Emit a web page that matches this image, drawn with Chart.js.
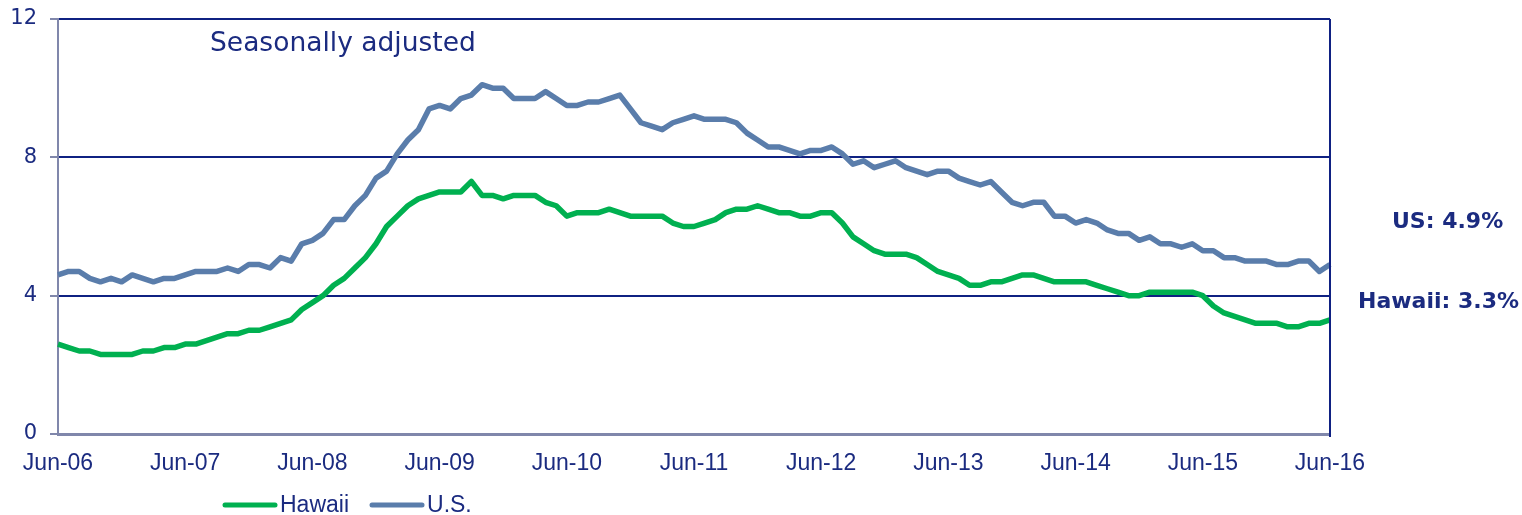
<!DOCTYPE html>
<html>
<head>
<meta charset="utf-8">
<script src="https://cdn.jsdelivr.net/npm/chart.js@4.4.1/dist/chart.umd.min.js"></script>
<style>
    html, body { margin: 0; padding: 0; background: #ffffff; }
    #wrap { position: relative; width: 1522px; height: 515px; }
</style>
</head>
<body>
<div id="wrap"><canvas id="unemployment-chart"></canvas></div>
<script>
// ---------------------------- Data ------------------------------------------ //

// tick labels shown on the x axis, one per June
const tick_labels = [ "Jun-06", "Jun-07", "Jun-08", "Jun-09", "Jun-10", "Jun-11",
    "Jun-12", "Jun-13", "Jun-14", "Jun-15", "Jun-16" ];

const month_names = [ "Jun", "Jul", "Aug", "Sep", "Oct", "Nov", "Dec",
    "Jan", "Feb", "Mar", "Apr", "May" ];

// Hawaii unemployment rate, %, monthly Jun-06 .. Jun-16
const hawaii_rate = [
    2.6, 2.5, 2.4, 2.4, 2.3, 2.3, 2.3, 2.3, 2.4, 2.4, 2.5, 2.5,
    2.6, 2.6, 2.7, 2.8, 2.9, 2.9, 3.0, 3.0, 3.1, 3.2, 3.3, 3.6,
    3.8, 4.0, 4.3, 4.5, 4.8, 5.1, 5.5, 6.0, 6.3, 6.6, 6.8, 6.9,
    7.0, 7.0, 7.0, 7.3, 6.9, 6.9, 6.8, 6.9, 6.9, 6.9, 6.7, 6.6,
    6.3, 6.4, 6.4, 6.4, 6.5, 6.4, 6.3, 6.3, 6.3, 6.3, 6.1, 6.0,
    6.0, 6.1, 6.2, 6.4, 6.5, 6.5, 6.6, 6.5, 6.4, 6.4, 6.3, 6.3,
    6.4, 6.4, 6.1, 5.7, 5.5, 5.3, 5.2, 5.2, 5.2, 5.1, 4.9, 4.7,
    4.6, 4.5, 4.3, 4.3, 4.4, 4.4, 4.5, 4.6, 4.6, 4.5, 4.4, 4.4,
    4.4, 4.4, 4.3, 4.2, 4.1, 4.0, 4.0, 4.1, 4.1, 4.1, 4.1, 4.1,
    4.0, 3.7, 3.5, 3.4, 3.3, 3.2, 3.2, 3.2, 3.1, 3.1, 3.2, 3.2,
    3.3
];

// U.S. unemployment rate, %, same months
const us_rate = [
    4.6, 4.7, 4.7, 4.5, 4.4, 4.5, 4.4, 4.6, 4.5, 4.4, 4.5, 4.5,
    4.6, 4.7, 4.7, 4.7, 4.8, 4.7, 4.9, 4.9, 4.8, 5.1, 5.0, 5.5,
    5.6, 5.8, 6.2, 6.2, 6.6, 6.9, 7.4, 7.6, 8.1, 8.5, 8.8, 9.4,
    9.5, 9.4, 9.7, 9.8, 10.1, 10.0, 10.0, 9.7, 9.7, 9.7, 9.9, 9.7,
    9.5, 9.5, 9.6, 9.6, 9.7, 9.8, 9.4, 9.0, 8.9, 8.8, 9.0, 9.1,
    9.2, 9.1, 9.1, 9.1, 9.0, 8.7, 8.5, 8.3, 8.3, 8.2, 8.1, 8.2,
    8.2, 8.3, 8.1, 7.8, 7.9, 7.7, 7.8, 7.9, 7.7, 7.6, 7.5, 7.6,
    7.6, 7.4, 7.3, 7.2, 7.3, 7.0, 6.7, 6.6, 6.7, 6.7, 6.3, 6.3,
    6.1, 6.2, 6.1, 5.9, 5.8, 5.8, 5.6, 5.7, 5.5, 5.5, 5.4, 5.5,
    5.3, 5.3, 5.1, 5.1, 5.0, 5.0, 5.0, 4.9, 4.9, 5.0, 5.0, 4.7,
    4.9
];

// one category per month
let month_labels = [];
for ( let i = 0; i < hawaii_rate.length; i++ )
{
    let yr = 6 + Math.floor( ( i + 5 ) / 12 );
    month_labels.push( month_names[ i % 12 ] + "-" + String( yr ).padStart( 2, "0" ) );
}

// ---------------------------- Styles ------------------------------------------ //
const NAVY = '#0f2182';
const TEXT_NAVY = '#1b2b80';
const AXIS_GREY = '#8087ab';
const GREEN = '#00b050';
const BLUE = '#5a7dab';

// extra drawing: right border, note, end values, legend
const extras_plugin = {
    id: 'extras',
    afterDraw( chart )
    {
        const ctx = chart.ctx;
        const area = chart.chartArea;
        ctx.save();

        ctx.strokeStyle = NAVY;
        ctx.lineWidth = 2;
        ctx.beginPath();
        ctx.moveTo( area.right, area.top );
        ctx.lineTo( area.right, area.bottom + 3 );
        ctx.stroke();

        ctx.fillStyle = TEXT_NAVY;
        ctx.textBaseline = 'alphabetic';
        ctx.textAlign = 'left';
        ctx.font = '26.5px "DejaVu Sans"';
        ctx.fillText( 'Seasonally adjusted', 210, 51 );

        ctx.font = 'bold 22px "DejaVu Sans"';
        ctx.fillText( 'US: ' + us_rate[ us_rate.length - 1 ].toFixed( 1 ) + '%', 1392, 228 );
        ctx.fillText( 'Hawaii: ' + hawaii_rate[ hawaii_rate.length - 1 ].toFixed( 1 ) + '%', 1358, 308 );

        // legend
        let x = 225;
        const y = 505;
        ctx.font = '23px "Liberation Sans"';
        ctx.textBaseline = 'middle';
        chart.data.datasets.forEach( ds =>
        {
            ctx.strokeStyle = ds.borderColor;
            ctx.lineWidth = 5;
            ctx.lineCap = 'round';
            ctx.beginPath();
            ctx.moveTo( x, y );
            ctx.lineTo( x + 50, y );
            ctx.stroke();
            ctx.fillStyle = TEXT_NAVY;
            ctx.fillText( ds.label, x + 55, y + 1 );
            x += 55 + ctx.measureText( ds.label ).width + 23;
        } );

        ctx.restore();
    }
};

const rate_data = {
    labels: month_labels,
    datasets: [
    {
        label: 'Hawaii',
        data: hawaii_rate,
        borderColor: GREEN,
        backgroundColor: GREEN,
        borderWidth: 5.5,
        pointRadius: 0,
        tension: 0,
        borderJoinStyle: 'round'
    },
    {
        label: 'U.S.',
        data: us_rate,
        borderColor: BLUE,
        backgroundColor: BLUE,
        borderWidth: 5.5,
        pointRadius: 0,
        tension: 0,
        borderJoinStyle: 'round'
    } ]
};

const rate_options = {
    responsive: true,
    maintainAspectRatio: false,
    animation: false,
    layout:
    {
        padding: { left: 0, right: 192, top: 19, bottom: 0 }
    },
    plugins:
    {
        legend: { display: false },
        tooltip: { enabled: false }
    },
    scales:
    {
        x:
        {
            offset: false,
            grid: { display: false, drawTicks: false },
            border: { display: true, color: AXIS_GREY, width: 3 },
            ticks:
            {
                autoSkip: false,
                maxRotation: 0,
                minRotation: 0,
                padding: 16,
                color: TEXT_NAVY,
                font: { family: '"Liberation Sans"', size: 23 },
                callback: ( val, idx ) => idx % 12 === 0 ? tick_labels[ idx / 12 ] : null
            },
            afterFit: scale => { scale.height = 81; }
        },
        y:
        {
            min: 0,
            max: 12,
            grid:
            {
                color: c => c.tick && c.tick.value === 0 ? 'rgba(0,0,0,0)' : NAVY,
                lineWidth: 2,
                tickColor: AXIS_GREY,
                tickLength: 8
            },
            border: { display: true, color: AXIS_GREY, width: 2 },
            ticks:
            {
                stepSize: 4,
                padding: 13,
                color: TEXT_NAVY,
                font: { family: '"DejaVu Sans"', size: 21 }
            },
            afterFit: scale =>
            {
                scale.width = 58;
                scale.paddingTop = 0;
                scale.paddingBottom = 0;
            }
        }
    }
};

let rate_chart = new Chart( document.getElementById( "unemployment-chart" ),
{
    type: 'line',
    data: rate_data,
    options: rate_options,
    plugins: [ extras_plugin ]
} );
</script>
</body>
</html>
